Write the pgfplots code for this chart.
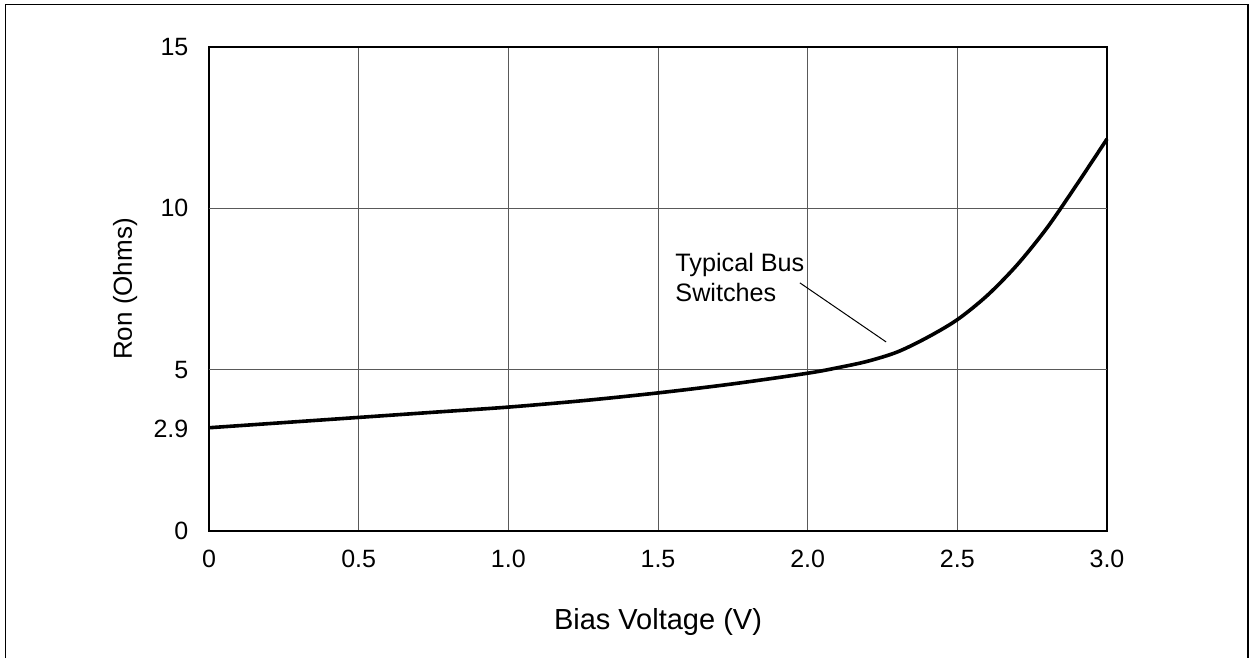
\documentclass[border=0pt]{standalone}
\usepackage{fontspec}
\setmainfont{Liberation Sans}
\usepackage{pgfplots}
\pgfplotsset{compat=1.18}
\begin{document}
\begin{tikzpicture}
\useasboundingbox (-104.5pt,-63.5pt) rectangle (521pt,265.5pt);
\draw[line width=0.8pt] (-101.75pt,-63.5pt) -- (-101.75pt,263.2pt) -- (519.5pt,263.2pt) -- (519.5pt,-63.5pt);
\begin{axis}[
  at={(0pt,0pt)}, anchor=south west,
  scale only axis, width=449pt, height=242pt,
  xmin=0, xmax=3, ymin=0, ymax=15,
  axis line style={line width=1pt},
  major tick length=0pt,
  xtick={0,0.5,1,1.5,2,2.5,3},
  xticklabels={0,0.5,1.0,1.5,2.0,2.5,3.0},
  ytick={0,3.15,5,10,15},
  yticklabels={0,2.9,5,10,15},
  xmajorgrids,
  extra y ticks={5,10},
  extra y tick labels={},
  extra y tick style={grid=major},
  grid style={line width=0.5pt, black!65},
  /pgf/number format/assume math mode=true,
  tick label style={font=\fontsize{12.5}{14}\selectfont},
  xticklabel style={anchor=base, yshift=-18pt},
  yticklabel style={anchor=east, xshift=-6.8pt},
  xlabel={Bias Voltage (V)},
  ylabel={Ron (Ohms)},
  xlabel style={font=\fontsize{14.5}{17}\selectfont, at={(axis description cs:0.5,-0.188)}, anchor=center},
  ylabel style={font=\fontsize{13}{15}\selectfont, at={(axis description cs:-0.0935,0.5)}, anchor=center},
  clip=false,
]
\addplot[black, line width=1.8pt, smooth] coordinates {
(0,3.2) (0.25,3.36) (0.5,3.52) (0.75,3.68) (1.0,3.84) (1.25,4.04) (1.5,4.28)
(1.75,4.56) (2.0,4.89) (2.1,5.06) (2.2,5.26) (2.3,5.55) (2.4,6.0)
(2.5,6.55) (2.6,7.3) (2.7,8.25) (2.8,9.4) (2.9,10.75) (3.0,12.15)
};
\addplot[black, line width=0.5pt] coordinates {(1.974,7.69) (2.262,5.86)};
\node[anchor=north west, align=left, inner sep=0pt, font=\fontsize{12.6}{15}\selectfont] at (axis cs:1.557,8.61) {Typical Bus\\Switches};
\end{axis}
\end{tikzpicture}
\end{document}
